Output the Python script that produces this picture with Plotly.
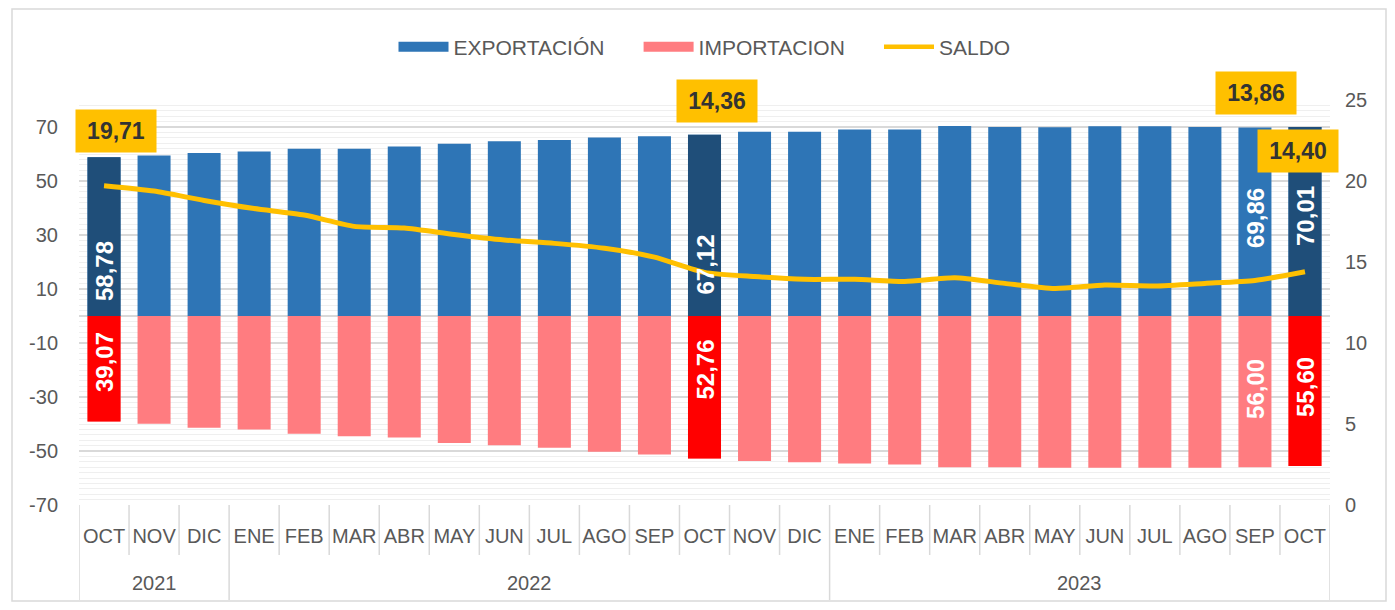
import plotly.graph_objects as go

# ---------------- data ----------------
months = ["OCT", "NOV", "DIC", "ENE", "FEB", "MAR", "ABR", "MAY", "JUN", "JUL", "AGO", "SEP",
          "OCT", "NOV", "DIC", "ENE", "FEB", "MAR", "ABR", "MAY", "JUN", "JUL", "AGO", "SEP", "OCT"]
years = ["2021"] * 3 + ["2022"] * 12 + ["2023"] * 10
year_labels = ["2021", "2022", "2023"]

exportacion = [58.78, 59.4, 60.4, 60.9, 61.9, 61.9, 62.8, 63.8, 64.7, 65.2, 66.1, 66.6,
               67.12, 68.2, 68.2, 69.1, 69.1, 70.4, 70.0, 69.9, 70.3, 70.3, 70.0, 69.86, 70.01]
importacion = [39.07, 39.9, 41.4, 42.0, 43.6, 44.5, 45.0, 47.0, 47.9, 48.8, 50.3, 51.3,
               52.76, 53.7, 54.2, 54.6, 55.0, 56.0, 56.0, 56.2, 56.2, 56.2, 56.2, 56.00, 55.60]
saldo = [19.71, 19.38, 18.8, 18.3, 17.9, 17.2, 17.1, 16.7, 16.36, 16.15, 15.85, 15.3,
         14.36, 14.1, 13.93, 13.93, 13.8, 14.03, 13.68, 13.37, 13.58, 13.52, 13.68, 13.86, 14.40]

left_ticks = [-70, -50, -30, -10, 10, 30, 50, 70]
right_ticks = [0, 5, 10, 15, 20, 25]

highlight_bars = [0, 12, 24]          # darker colored bars
labelled = [0, 12, 23, 24]            # bars with value labels
saldo_labelled = [0, 12, 23, 24]

# ---------------- style ----------------
C_EXP, C_EXP_HI = "#2E75B6", "#1F4E79"
C_IMP, C_IMP_HI = "#FF7C80", "#FF0000"
C_SALDO = "#FFC000"
GRAY_TXT = "#595959"
GRID = "#D9D9D9"
FONT = "Liberation Sans, Arial, sans-serif"
BOLD = "Liberation Sans, Arial, sans-serif"
FS = 20
BAR_W = 0.66

# page has an 8px body margin: figure is sized to fit inside the window
W, H = 1379, 594
L, T = 71, 92
PW, PH = 1251, 405

def fmt(v):
    return f"{v:.2f}".replace(".", ",")

cats = [f"{m} {y}" for m, y in zip(months, years)]
n = len(cats)
hi_x = [cats[i] for i in highlight_bars]
PAD = "\u00a0" * 5

fig = go.Figure()
# base bars
fig.add_trace(go.Bar(x=cats, y=exportacion, marker=dict(color=C_EXP, line_width=0), width=BAR_W,
                     showlegend=False, name="EXPORTACIÓN"))
fig.add_trace(go.Bar(x=cats, y=[-v for v in importacion], marker=dict(color=C_IMP, line_width=0),
                     width=BAR_W, showlegend=False, name="IMPORTACION"))
# highlighted bars
fig.add_trace(go.Bar(x=hi_x, y=[exportacion[i] for i in highlight_bars], width=BAR_W,
                     marker=dict(color=C_EXP_HI, line_width=0), showlegend=False))
fig.add_trace(go.Bar(x=hi_x, y=[-importacion[i] for i in highlight_bars], width=BAR_W,
                     marker=dict(color=C_IMP_HI, line_width=0), showlegend=False))
# saldo line
fig.add_trace(go.Scatter(x=cats, y=saldo, name="SALDO", yaxis="y2", mode="lines", showlegend=False,
                         line=dict(color=C_SALDO, width=5, shape="spline", smoothing=0.6)))
# legend entries
for name, col in [("EXPORTACIÓN" + PAD, C_EXP), ("IMPORTACION" + PAD, C_IMP)]:
    fig.add_trace(go.Scatter(x=[None], y=[None], mode="lines", name=name,
                             line=dict(color=col, width=10)))
fig.add_trace(go.Scatter(x=[None], y=[None], mode="lines", name="SALDO",
                         line=dict(color=C_SALDO, width=4.5)))

annotations = []
# in-bar labels (rotated)
exp_shift = {0: 13, 12: 19, 23: 66, 24: 68}
imp_shift = {0: -14, 12: -22, 23: -41, 24: -39}
for i in labelled:
    annotations.append(dict(x=cats[i], y=0, xref="x", yref="y", text="<b>" + fmt(exportacion[i]) + "</b>",
                            textangle=-90, showarrow=False, yanchor="bottom", yshift=exp_shift[i],
                            font=dict(family=BOLD, size=24, color="white")))
    annotations.append(dict(x=cats[i], y=0, xref="x", yref="y", text="<b>" + fmt(importacion[i]) + "</b>",
                            textangle=-90, showarrow=False, yanchor="top", yshift=imp_shift[i],
                            font=dict(family=BOLD, size=24, color="white")))
# saldo callouts
box_shift = {0: (12, 55), 12: (12, 171), 23: (1, 187), 24: (-7, 121)}
for i in saldo_labelled:
    dx, dy = box_shift[i]
    annotations.append(dict(x=cats[i], y=saldo[i], xref="x", yref="y2", text="<b>" + fmt(saldo[i]) + "</b>",
                            showarrow=False, xshift=dx, yshift=dy, bgcolor=C_SALDO,
                            width=68, height=30, borderpad=6,
                            font=dict(family=BOLD, size=23, color="#333333")))

# outer frame, category separators and year labels
shapes = [dict(type="rect", xref="paper", yref="paper",
               x0=(12 - 79) / PW, x1=(1386 - 79) / PW, y0=-96 / PH, y1=(505 - 9) / PH,
               line=dict(color=GRID, width=1.5), layer="below")]
MONTH_SEP = -50 / PH
YEAR_SEP = -95 / PH
group_start = [years.index(y) for y in year_labels]
group_end = [n - 1 - years[::-1].index(y) for y in year_labels]
year_bounds = set(group_start) | {n}
for b in range(n + 1):
    y0 = YEAR_SEP if b in year_bounds else MONTH_SEP
    shapes.append(dict(type="line", xref="x", yref="paper", x0=b - 0.5, x1=b - 0.5, y0=0, y1=y0,
                       line=dict(color=GRID, width=1.5)))
for y, s, e in zip(year_labels, group_start, group_end):
    annotations.append(dict(x=(s + e) / 2, y=-78 / PH, xref="x", yref="paper", text=y, showarrow=False,
                            yanchor="middle", font=dict(family=FONT, size=FS, color=GRAY_TXT)))

fig.update_layout(
    width=W, height=H,
    margin=dict(l=L, r=W - L - PW, t=T, b=H - T - PH),
    paper_bgcolor="white", plot_bgcolor="white",
    barmode="overlay",
    font=dict(family=FONT, size=FS, color=GRAY_TXT),
    showlegend=True,
    legend=dict(orientation="h", x=0.5, xanchor="center", y=1 + 53 / PH, yanchor="middle",
                font=dict(family=FONT, size=21, color=GRAY_TXT), traceorder="normal",
                itemwidth=50),
    annotations=annotations,
    shapes=shapes,
    xaxis=dict(type="category", range=[-0.5, n - 0.5], showgrid=False, zeroline=False, showline=False,
               tickvals=cats, ticktext=months, tickangle=0, ticks="", ticklabelstandoff=17,
               tickfont=dict(family=FONT, size=FS, color=GRAY_TXT)),
    yaxis=dict(range=[-70, 80], tickvals=left_ticks, ticktext=[str(v) for v in left_ticks],
               showgrid=True, gridcolor=GRID, gridwidth=1.5,
               zeroline=True, zerolinecolor=GRID, zerolinewidth=1.5,
               minor=dict(dtick=2, tick0=0, showgrid=True, gridcolor="#EFEFEF", gridwidth=1),
               tickfont=dict(family=FONT, size=FS, color=GRAY_TXT), ticks="", ticklabelstandoff=20),
    yaxis2=dict(range=[0, 25], tickvals=right_ticks, overlaying="y", side="right", showgrid=False,
                zeroline=False, tickfont=dict(family=FONT, size=FS, color=GRAY_TXT), ticklabelstandoff=14),
)

fig.write_html("out.html")
